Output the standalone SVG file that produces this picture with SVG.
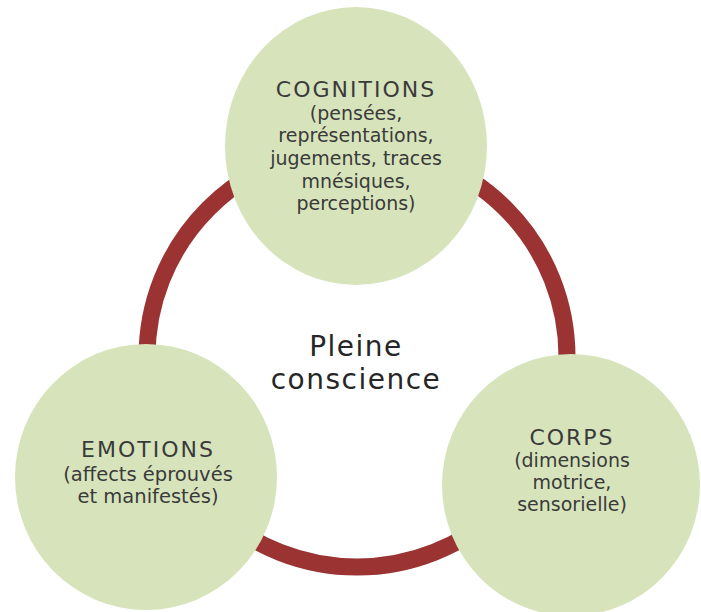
<svg xmlns="http://www.w3.org/2000/svg" width="701" height="612" viewBox="0 0 701 612">
<style>
.node{fill:#d7e4bb}
.ring{fill:none;stroke:#9b3333;stroke-width:17}
.h{font-family:"DejaVu Sans",sans-serif;font-size:22px;letter-spacing:2px;fill:#3a3a3a;text-anchor:middle}
.b{font-family:"DejaVu Sans",sans-serif;font-size:19px;fill:#3a3a3a;text-anchor:middle}
.c{font-family:"DejaVu Sans",sans-serif;font-size:28px;letter-spacing:1.5px;fill:#262626;text-anchor:middle}
</style>
<rect width="701" height="612" fill="#ffffff"/>
<g id="connectors">
<circle class="ring" cx="357" cy="357" r="210"/>
</g>
<g id="center-label">
<text class="c" x="356" y="356">Pleine</text>
<text class="c" x="356" y="389">conscience</text>
</g>
<g id="cognitions">
<ellipse class="node" cx="356" cy="146" rx="131" ry="139"/>
<text class="h" x="356" y="97">COGNITIONS</text>
<text class="b" x="356" y="120">(pensées,</text>
<text class="b" x="356" y="142">représentations,</text>
<text class="b" x="356" y="165">jugements, traces</text>
<text class="b" x="356" y="188">mnésiques,</text>
<text class="b" x="356" y="210">perceptions)</text>
</g>
<g id="emotions">
<ellipse class="node" cx="146" cy="477" rx="131" ry="133"/>
<text class="h" x="148" y="457">EMOTIONS</text>
<text class="b" x="148" y="481" style="font-size:19.5px">(affects éprouvés</text>
<text class="b" x="148" y="503" style="font-size:19.5px">et manifestés)</text>
</g>
<g id="corps">
<ellipse class="node" cx="571" cy="485" rx="129" ry="131"/>
<text class="h" x="572" y="445">CORPS</text>
<text class="b" x="572" y="467">(dimensions</text>
<text class="b" x="572" y="489">motrice,</text>
<text class="b" x="572" y="511">sensorielle)</text>
</g>
</svg>
